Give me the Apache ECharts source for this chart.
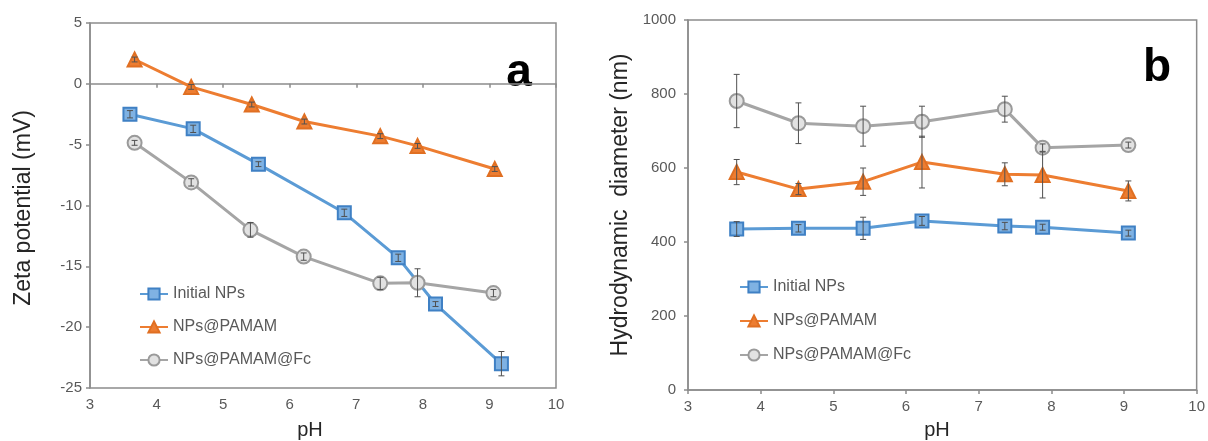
<!DOCTYPE html>
<html>
<head>
<meta charset="utf-8">
<script src="https://cdn.jsdelivr.net/npm/echarts@6/dist/echarts.min.js"></script>
<style>html,body{margin:0;padding:0;background:#fff}#c{width:1208px;height:441px}</style>
</head>
<body>
<div id="c"></div>
<script>
// ---- Data ----
const seriesNames = ['Initial NPs', 'NPs@PAMAM', 'NPs@PAMAM@Fc'];
// Panel a: zeta potential vs pH
const pHaInitial = [3.6, 4.55, 5.53, 6.82, 7.63, 8.19, 9.18];
const zetaInitial = [-2.5, -3.7, -6.6, -10.6, -14.3, -18.1, -23.0];
const zetaInitialErr = [0.3, 0.3, 0.2, 0.3, 0.3, 0.2, 1.0];
const pHaPamam = [3.67, 4.52, 5.43, 6.22, 7.36, 7.92, 9.08];
const zetaPamam = [2.0, -0.25, -1.7, -3.1, -4.3, -5.1, -7.0];
const zetaPamamErr = [0.2, 0.2, 0.2, 0.2, 0.2, 0.2, 0.2];
const pHaFc = [3.67, 4.52, 5.41, 6.21, 7.36, 7.92, 9.06];
const zetaFc = [-4.85, -8.1, -12.0, -14.2, -16.4, -16.35, -17.2];
const zetaFcErr = [0.2, 0.3, 0.6, 0.3, 0.5, 1.15, 0.3];
// Panel b: hydrodynamic diameter vs pH
const pHb = [3.67, 4.52, 5.41, 6.22, 7.36, 7.88, 9.06];
const sizeInitial = [435, 437, 437, 457, 443, 440, 424];
const sizeInitialErr = [20, 10, 30, 12, 10, 8, 8];
const sizePamam = [589, 543, 563, 616, 583, 581, 538];
const sizePamamErr = [34, 15, 37, 70, 31, 62, 27];
const sizeFc = [781, 721, 713, 725, 759, 655, 662];
const sizeFcErr = [72, 55, 54, 42, 35, 10, 8];
// Axis ranges / ticks
const xTicks = {min: 3, max: 10, interval: 1};
const zetaTicks = {min: -25, max: 5, interval: 5};
const sizeTicks = {min: 0, max: 1000, interval: 200};

// ---- Styles ----
const FONT = 'Liberation Sans, Arial, sans-serif';
const AX = '#8c8c8c';
const styles = [
  {line: '#5b9bd5', symbol: 'rect', size: 13, fill: '#7fb2e3', border: '#3f80c4'},
  {line: '#ed7d31', symbol: 'triangle', size: 14, fill: '#ed7d31', border: '#e06f22'},
  {line: '#a5a5a5', symbol: 'circle', size: 14, fill: '#e2e2e2', border: '#9a9a9a'}
];

function zip(xs, ys, es) { return xs.map((x, i) => es ? [x, ys[i], es[i]] : [x, ys[i]]); }

function lineSeries(name, idx, xs, ys, g) {
  const s = styles[idx];
  return {
    name: name, type: 'line', xAxisIndex: g, yAxisIndex: g,
    data: zip(xs, ys), symbol: s.symbol, symbolSize: s.size, showSymbol: true,
    lineStyle: {color: s.line, width: 3},
    itemStyle: {color: s.fill, borderColor: s.border, borderWidth: 2},
    z: 3, animation: false
  };
}
function errSeries(xs, ys, es, g) {
  return {
    type: 'custom', xAxisIndex: g, yAxisIndex: g, data: zip(xs, ys, es), z: 4, animation: false,
    silent: true,
    renderItem: function (params, api) {
      const x = api.value(0), y = api.value(1), e = api.value(2);
      const t = api.coord([x, y + e]), b = api.coord([x, y - e]);
      const w = 3, st = {stroke: '#505050', lineWidth: 1};
      return {type: 'group', children: [
        {type: 'line', shape: {x1: t[0], y1: t[1], x2: b[0], y2: b[1]}, style: st},
        {type: 'line', shape: {x1: t[0] - w, y1: t[1], x2: t[0] + w, y2: t[1]}, style: st},
        {type: 'line', shape: {x1: b[0] - w, y1: b[1], x2: b[0] + w, y2: b[1]}, style: st}
      ]};
    }
  };
}
function xAxis(g) {
  return Object.assign({type: 'value', gridIndex: g,
    axisLine: {show: true, lineStyle: {color: AX, width: 1.5}},
    axisTick: {show: true, length: 4, lineStyle: {color: AX, width: 1.5}},
    axisLabel: {color: '#595959', fontSize: 15, fontFamily: FONT, margin: 9},
    splitLine: {show: false}}, xTicks);
}
function yAxis(g, ticks, margin) {
  return Object.assign({type: 'value', gridIndex: g,
    axisLine: {show: true, onZero: false, lineStyle: {color: AX, width: 1.5}},
    axisTick: {show: true, length: 4, lineStyle: {color: AX, width: 1.5}},
    axisLabel: {color: '#595959', fontSize: 15, fontFamily: FONT, margin: margin,
      formatter: function (v) { return String(v); }},
    splitLine: {show: false}}, ticks);
}
function legend(left, top, gap) {
  return {orient: 'vertical', left: left, top: top, itemWidth: 28, itemHeight: 14, itemGap: gap,
    data: seriesNames, selectedMode: false,
    textStyle: {color: '#595959', fontSize: 16, fontFamily: FONT, lineHeight: 18}};
}

const chart = echarts.init(document.getElementById('c'), null, {renderer: 'canvas'});
chart.setOption({
  backgroundColor: '#fff',
  animation: false,
  grid: [
    {left: 90, top: 23, width: 466, height: 365, show: true, borderColor: AX, borderWidth: 1.5, backgroundColor: 'transparent'},
    {left: 688, top: 20, width: 510, height: 370, show: true, borderColor: AX, borderWidth: 1.5, backgroundColor: 'transparent'}
  ],
  xAxis: [xAxis(0), xAxis(1)],
  yAxis: [yAxis(0, zetaTicks, 8), yAxis(1, sizeTicks, 12)],
  legend: [legend(134, 280, 15), legend(734, 273, 16)],
  series: [
    lineSeries(seriesNames[0], 0, pHaInitial, zetaInitial, 0),
    lineSeries(seriesNames[1], 1, pHaPamam, zetaPamam, 0),
    lineSeries(seriesNames[2], 2, pHaFc, zetaFc, 0),
    errSeries(pHaInitial, zetaInitial, zetaInitialErr, 0),
    errSeries(pHaPamam, zetaPamam, zetaPamamErr, 0),
    errSeries(pHaFc, zetaFc, zetaFcErr, 0),
    lineSeries(seriesNames[0], 0, pHb, sizeInitial, 1),
    lineSeries(seriesNames[1], 1, pHb, sizePamam, 1),
    lineSeries(seriesNames[2], 2, pHb, sizeFc, 1),
    errSeries(pHb, sizeInitial, sizeInitialErr, 1),
    errSeries(pHb, sizePamam, sizePamamErr, 1),
    errSeries(pHb, sizeFc, sizeFcErr, 1)
  ],
  graphic: [
    {type: 'text', x: 24, y: 208, rotation: Math.PI / 2, style: {text: 'Zeta potential (mV)', fill: '#262626', font: '23px ' + FONT, textAlign: 'center', textVerticalAlign: 'middle'}},
    {type: 'text', x: 621, y: 205, rotation: Math.PI / 2, style: {text: 'Hydrodynamic  diameter (nm)', fill: '#262626', font: '23px ' + FONT, textAlign: 'center', textVerticalAlign: 'middle'}},
    {type: 'text', x: 310, y: 430, style: {text: 'pH', fill: '#262626', font: '20px ' + FONT, textAlign: 'center', textVerticalAlign: 'middle'}},
    {type: 'text', x: 937, y: 430, style: {text: 'pH', fill: '#262626', font: '20px ' + FONT, textAlign: 'center', textVerticalAlign: 'middle'}},
    {type: 'text', x: 519, y: 73, style: {text: 'a', fill: '#000', font: 'bold 46px ' + FONT, textAlign: 'center', textVerticalAlign: 'middle'}},
    {type: 'text', x: 1157, y: 68, style: {text: 'b', fill: '#000', font: 'bold 46px ' + FONT, textAlign: 'center', textVerticalAlign: 'middle'}}
  ]
});
</script>
</body>
</html>
